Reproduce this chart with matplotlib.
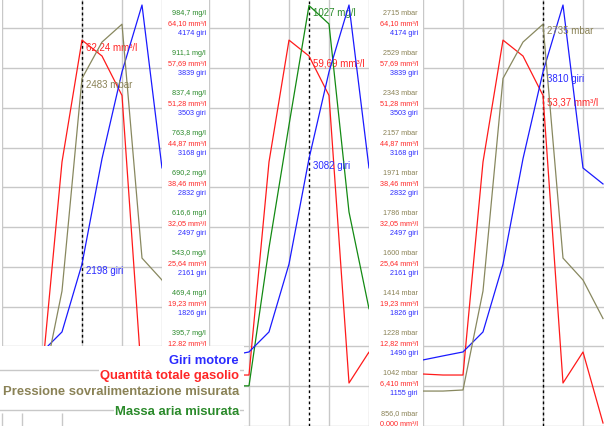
import math
import matplotlib
matplotlib.use('Agg')
import matplotlib.pyplot as plt

plt.rcParams['font.family'] = ['Liberation Sans', 'DejaVu Sans']

# one sample every 20 px along the time axis
samples = [0, 1, 2, 3, 4, 5, 6, 7, 8, 9]

giri_motore = [1394, 1428, 1461, 1629, 2198, 3082, 3810, 4371, 3004, 2870]
gasolio = [8.73, 8.57, 8.57, 42.71, 62.24, 59.69, 53.37, 7.29, 12.26, 0.88]
pressione = [1030, 1030, 1035, 1495, 2483, 2652, 2735, 1648, 1546, 1367]
massa_aria = [327, 327, 327, 581, 807, 1027, 993, 647, 469]

# scale values printed between the panels, top gridline first
ticks_giri = [4174, 3839, 3503, 3168, 2832, 2497, 2161, 1826, 1490, 1155, 819]
ticks_gasolio = [64.10, 57.69, 51.28, 44.87, 38.46, 32.05, 25.64, 19.23, 12.82, 6.410, 0.000]
ticks_pressione = [2715, 2529, 2343, 2157, 1971, 1786, 1600, 1414, 1228, 1042, 856.0]
ticks_massa = [984.7, 911.1, 837.4, 763.8, 690.2, 616.6, 543.0, 469.4, 395.7, 322.1, 248.5]

legend_labels = ['Giri motore', 'Quantità totale gasolio',
                 'Pressione sovralimentazione misurata', 'Massa aria misurata']

# name: values, ticks, unit, line colour, text colour
SERIES = {
    'giri': (giri_motore, ticks_giri, 'giri', '#1a1aff', '#2b2bff'),
    'gasolio': (gasolio, ticks_gasolio, 'mm³/l', '#ff1a1a', '#ff2626'),
    'pressione': (pressione, ticks_pressione, 'mbar', '#88885f', '#8a8256'),
    'massa': (massa_aria, ticks_massa, 'mg/l', '#138a13', '#2a8a2a'),
}
LEGEND_ORDER = ['giri', 'gasolio', 'pressione', 'massa']

W, H = 604, 426
GRID_TOP = 28.5   # pixel row of the first horizontal gridline
GRID_STEP = 40
GRID_COLOR = '#c8c8c8'
LEGEND_W, LEGEND_TOP = 244, 346

# x0, x1 (px), xmax (samples), drawn series, cursor sample, label column x, label series
PANELS = [
    (2, 162, 8, ['gasolio', 'pressione', 'giri'], 4, 206, ['massa', 'gasolio', 'giri']),
    (209, 369, 8, ['gasolio', 'massa', 'giri'], 5, 418, ['pressione', 'gasolio', 'giri']),
    (423, 604, 9.05, ['gasolio', 'pressione', 'giri'], 6, None, None),
]


def fmt(v):
    """Four significant digits with a decimal comma, like the instrument."""
    if v == 0:
        dec = 3
    else:
        dec = max(0, 3 - int(math.floor(math.log10(abs(v)))))
    return f"{v:.{dec}f}".replace('.', ',')


def limits(ticks):
    n = len(ticks) - 1
    per_px = (ticks[0] - ticks[-1]) / (GRID_STEP * n)
    bottom = ticks[-1] - (H - GRID_TOP - GRID_STEP * n) * per_px
    top = ticks[0] + GRID_TOP * per_px
    return bottom, top


fig = plt.figure(figsize=(W / 100, H / 100), dpi=100)
fig.patch.set_facecolor('white')

for x0, x1, xmax, drawn, cursor, col_x, col_series in PANELS:
    ax = fig.add_axes([x0 / W, 0, (x1 - x0) / W, 1])
    ax.set_xlim(0, xmax)
    ax.set_ylim(*limits(ticks_gasolio))
    ax.set_xticks([s for s in samples if s % 2 == 0 and s <= xmax])
    ax.set_yticks(ticks_gasolio)
    ax.grid(True, color=GRID_COLOR, lw=1)
    ax.tick_params(length=0, labelbottom=False, labelleft=False)
    for sp in ax.spines.values():
        sp.set_visible(False)

    axes_by_name = {}
    for name in set(drawn) | set(col_series or []):
        tw = ax.twinx()
        tw.set_ylim(*limits(SERIES[name][1]))
        tw.set_yticks([])
        for sp in tw.spines.values():
            sp.set_visible(False)
        axes_by_name[name] = tw

    for name in drawn:
        vals, ticks, unit, lc, tc = SERIES[name]
        tw = axes_by_name[name]
        tw.plot(samples[:len(vals)], vals, color=lc, lw=0.9)
        v = vals[cursor]
        tw.annotate(f"{fmt(v)} {unit}", xy=(cursor, v), xytext=(4, -2),
                    textcoords='offset pixels', ha='left', va='top',
                    fontsize=7, color=tc)

    ax.axvline(cursor, color='black', lw=1, ls=(0, (2, 2)), zorder=5)

    if col_x is not None:
        for name, dy in zip(col_series, [15, 5, -5]):
            vals, ticks, unit, lc, tc = SERIES[name]
            tw = axes_by_name[name]
            for k, t in enumerate(ticks):
                # rows that sit fully under the legend block are not shown
                row_y = GRID_TOP + k * GRID_STEP - dy
                if col_x < LEGEND_W and row_y > LEGEND_TOP + 2:
                    continue
                tw.annotate(f"{fmt(t)} {unit}", xy=(col_x / W, t),
                            xycoords=(fig.transFigure, tw.transData),
                            xytext=(0, dy), textcoords='offset pixels',
                            ha='right', va='center', fontsize=5.2, color=tc,
                            annotation_clip=False)

# legend block in the lower left corner
lax = fig.add_axes([0, 0, LEGEND_W / W, (H - LEGEND_TOP) / H])
lax.set_xlim(0, LEGEND_W)
lax.set_ylim(H, LEGEND_TOP)
lax.set_facecolor('white')
lax.set_xticks([])
lax.set_yticks([])
for sp in lax.spines.values():
    sp.set_visible(False)
lax.axhline(370, color=GRID_COLOR, lw=1)
lax.axhline(410, color=GRID_COLOR, lw=1)
lax.vlines([2, 22, 62], 413, 426, color=GRID_COLOR, lw=1)
for name, label, y in zip(LEGEND_ORDER, legend_labels, [361, 376, 392, 412]):
    lax.text(239, y, label, ha='right', va='center', fontsize=9.4,
             fontweight='bold', color=SERIES[name][4],
             bbox=dict(facecolor='white', edgecolor='none', pad=0.5))

fig.savefig('out.png', dpi=100)
